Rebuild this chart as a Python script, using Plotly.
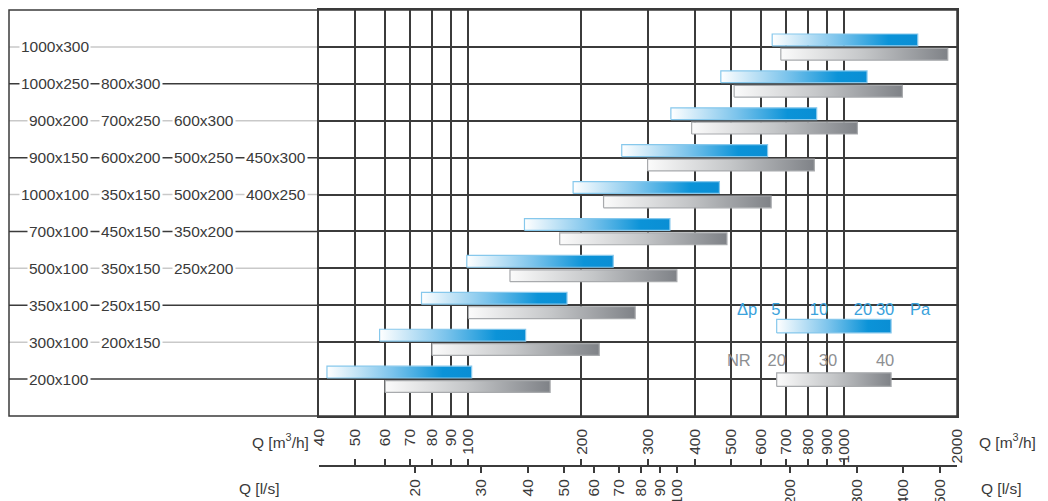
import math
import plotly.graph_objects as go

# ---------------- data ----------------
row_labels = [
    ["200x100"],
    ["300x100", "200x150"],
    ["350x100", "250x150"],
    ["500x100", "350x150", "250x200"],
    ["700x100", "450x150", "350x200"],
    ["1000x100", "350x150", "500x200", "400x250"],
    ["900x150", "600x200", "500x250", "450x300"],
    ["900x200", "700x250", "600x300"],
    ["1000x250", "800x300"],
    ["1000x300"],
]
blue_start = [42, 58, 75, 99, 141, 190, 256, 346, 470, 644]
blue_end = [102, 142, 183, 243, 344, 466, 626, 846, 1152, 1572]
gray_start = [60, 80, 100, 129, 175, 229, 300, 393, 510, 679]
gray_end = [165, 223, 278, 359, 488, 640, 834, 1086, 1431, 1890]

q_ticks = [40, 50, 60, 70, 80, 90, 100, 200, 300, 400, 500, 600, 700, 800, 900, 1000, 2000]
ls_ticks = [20, 30, 40, 50, 60, 70, 80, 90, 100, 200, 300, 400, 500]

legend_range = [662, 1335]
dp_labels = ["Δp", "5", "10", "20", "30", "Pa"]
dp_q = [552, 659, 858, 1124, 1287, 1594]
nr_labels = ["NR", "20", "30", "40"]
nr_q = [525, 662, 907, 1287]

# ---------------- styling ----------------
W, H = 1048, 501
ML, MR, MT, MB = 319, 91, 10, 36
PW, PH = W - ML - MR, H - MT - MB
PLOT_BOTTOM = 416
ydom0 = (H - MB - PLOT_BOTTOM) / PH

def px_x(px):
    return (px - ML) / PW

def px_y(py):
    return (H - MB - py) / PH

DARK = "#3b3b3b"
LIGHT = "#c9c9c9"
TXT = "#3a3a3a"
FONT = "Liberation Sans, Arial, sans-serif"
BLUE_SCALE = [[0, "#ffffff"], [0.45, "#7cc4ec"], [0.8, "#0b93d8"], [1, "#0a8ed4"]]
GRAY_SCALE = [[0, "#fbfbfb"], [0.5, "#c4c6c8"], [1, "#7f8287"]]
BLUE_EDGE = "#86c8ec"
GRAY_EDGE = "#a8aaad"

fig = go.Figure()

def add_bar(x0, x1, y0, y1, scale, edge):
    fig.add_trace(go.Scatter(
        x=[x0, x1, x1, x0, x0], y=[y0, y0, y1, y1, y0],
        mode="lines", fill="toself",
        fillgradient=dict(type="horizontal", colorscale=scale),
        line=dict(color=edge, width=1.2),
        hoverinfo="skip", showlegend=False,
        xaxis="x", yaxis="y",
    ))

for i in range(len(row_labels)):
    k = i + 1
    add_bar(blue_start[i], blue_end[i], k + 0.03, k + 0.35, BLUE_SCALE, BLUE_EDGE)
    add_bar(gray_start[i], gray_end[i], k - 0.36, k - 0.04, GRAY_SCALE, GRAY_EDGE)

# legend bars
add_bar(legend_range[0], legend_range[1], 2.25, 2.62, BLUE_SCALE, BLUE_EDGE)
add_bar(legend_range[0], legend_range[1], 0.80, 1.17, GRAY_SCALE, GRAY_EDGE)

fig.add_trace(go.Scatter(
    x=dp_q, y=[2.86] * len(dp_q), mode="text", text=dp_labels,
    textfont=dict(family=FONT, size=16.5, color="#3aa2dc"),
    hoverinfo="skip", showlegend=False))
fig.add_trace(go.Scatter(
    x=nr_q, y=[1.46] * len(nr_q), mode="text", text=nr_labels,
    textfont=dict(family=FONT, size=16.5, color="#8d8f92"),
    hoverinfo="skip", showlegend=False))

# dummy traces for the bottom axes
fig.add_trace(go.Scatter(x=[100], y=[0.5], xaxis="x2", yaxis="y2",
                         mode="markers", marker=dict(opacity=0),
                         hoverinfo="skip", showlegend=False))
fig.add_trace(go.Scatter(x=[100], y=[0.5], xaxis="x3", yaxis="y2",
                         mode="markers", marker=dict(opacity=0),
                         hoverinfo="skip", showlegend=False))

shapes = []
# outer frame including label area
shapes.append(dict(type="rect", xref="paper", yref="y domain",
                   x0=px_x(9), x1=1, y0=0, y1=1,
                   line=dict(color=DARK, width=1.5), layer="above"))
# row lines in the label area
col_right = [91, 163, 236, 308]
annotations = []
for i, labels in enumerate(row_labels):
    k = i + 1
    color = DARK if k % 2 == 1 else LIGHT
    shapes.append(dict(type="line", xref="paper", yref="y",
                       x0=px_x(9), x1=0, y0=k, y1=k,
                       line=dict(color=color, width=1.5), layer="below"))
    for j, lab in enumerate(labels):
        annotations.append(dict(
            text=lab, xref="paper", yref="y", x=px_x(col_right[j]), y=k,
            xanchor="right", yanchor="middle", showarrow=False,
            bgcolor="white", borderpad=1,
            font=dict(family=FONT, size=15.5, color=TXT)))

# axis titles
for txt, xa, px, py in [
    ("Q [m<sup>3</sup>/h]", "right", 311, 441),
    ("Q [l/s]", "right", 281, 488),
    ("Q [m<sup>3</sup>/h]", "left", 977, 441),
    ("Q [l/s]", "left", 979, 488),
]:
    annotations.append(dict(
        text=txt, xref="paper", yref="paper", x=px_x(px), y=px_y(py),
        xanchor=xa, yanchor="middle", showarrow=False,
        font=dict(family=FONT, size=15.5, color=TXT)))

qrange = [math.log10(40), math.log10(2000)]
lsrange = [math.log10(40 / 3.6), math.log10(2000 / 3.6)]

fig.update_layout(
    width=W, height=H,
    margin=dict(l=ML, r=MR, t=MT, b=MB, autoexpand=False),
    paper_bgcolor="white", plot_bgcolor="white",
    hovermode=False, showlegend=False,
    shapes=shapes, annotations=annotations,
    xaxis=dict(type="log", range=qrange, anchor="y", domain=[0, 1], automargin=False,
               tickmode="array", tickvals=q_ticks, ticktext=[str(v) for v in q_ticks],
               tickangle=-90, ticks="outside", ticklen=5, tickcolor="rgba(0,0,0,0)",
               tickfont=dict(family=FONT, size=15.5, color=TXT),
               showgrid=True, gridcolor=DARK, gridwidth=1.5,
               showline=True, mirror=True, linecolor=DARK, linewidth=1.5,
               zeroline=False, fixedrange=True),
    yaxis=dict(range=[0, 11], domain=[ydom0, 1], anchor="x", automargin=False,
               tickmode="array", tickvals=list(range(1, 11)),
               showticklabels=False, ticks="",
               showgrid=True, gridcolor=DARK, gridwidth=1.5,
               showline=True, mirror=True, linecolor=DARK, linewidth=1.5,
               zeroline=False, fixedrange=True),
    yaxis2=dict(range=[0, 1], domain=[0, ydom0], anchor="x2", automargin=False,
                visible=False, fixedrange=True),
    xaxis2=dict(type="log", range=qrange, anchor="y2", domain=[0, 1], side="bottom",
                automargin=False,
                tickmode="array", tickvals=q_ticks, showticklabels=False,
                ticks="inside", ticklen=6, tickwidth=1.5, tickcolor=DARK,
                showline=True, linecolor=DARK, linewidth=1.5,
                showgrid=False, zeroline=False, fixedrange=True),
    xaxis3=dict(type="log", range=lsrange, anchor="y2", overlaying="x2", side="bottom",
                automargin=False,
                tickmode="array", tickvals=ls_ticks, ticktext=[str(v) for v in ls_ticks],
                tickangle=-90, ticks="outside", ticklen=7, tickwidth=1.5, tickcolor=DARK,
                tickfont=dict(family=FONT, size=15.5, color=TXT),
                showline=False, showgrid=False, zeroline=False, fixedrange=True),
)

fig.write_html("out.html", config={"displayModeBar": False},
               post_script="document.body.style.margin='0';document.body.style.overflow='hidden';")
